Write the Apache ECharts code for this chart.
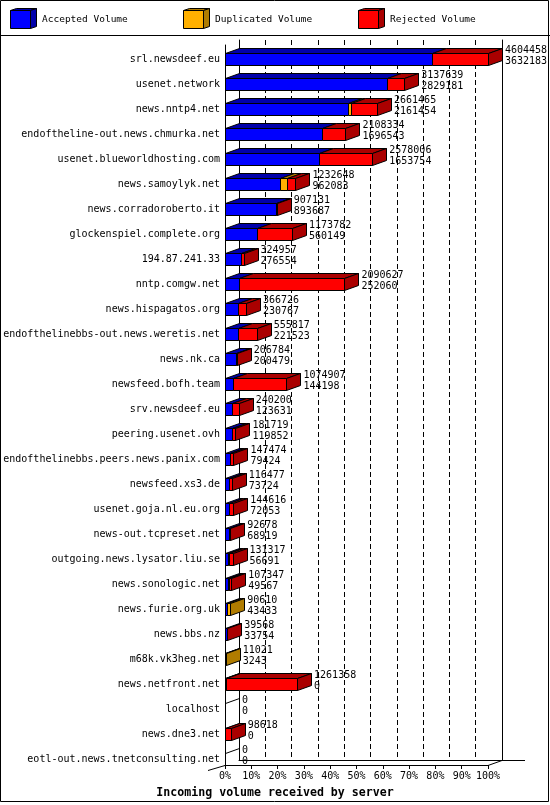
<!DOCTYPE html>
<html>
<head>
<meta charset="utf-8">
<script src="https://cdn.jsdelivr.net/npm/echarts@6/dist/echarts.min.js"></script>
<style>
html,body{margin:0;padding:0;background:#fff;}
#chart{width:550px;height:805px;}
</style>
</head>
<body>
<div id="chart"></div>
<script>
// ---- data ----
const categories = [
  'srl.newsdeef.eu','usenet.network','news.nntp4.net','endoftheline-out.news.chmurka.net',
  'usenet.blueworldhosting.com','news.samoylyk.net','news.corradoroberto.it','glockenspiel.complete.org',
  '194.87.241.33','nntp.comgw.net','news.hispagatos.org','endofthelinebbs-out.news.weretis.net',
  'news.nk.ca','newsfeed.bofh.team','srv.newsdeef.eu','peering.usenet.ovh',
  'endofthelinebbs.peers.news.panix.com','newsfeed.xs3.de','usenet.goja.nl.eu.org','news-out.tcpreset.net',
  'outgoing.news.lysator.liu.se','news.sonologic.net','news.furie.org.uk','news.bbs.nz',
  'm68k.vk3heg.net','news.netfront.net','localhost','news.dne3.net','eotl-out.news.tnetconsulting.net'
];
const offeredVolume = [
  4604458,3137639,2661465,2108334,2578006,1232648,907131,1173782,
  324957,2090627,366726,555817,206784,1074907,240200,181719,
  147474,116477,144616,92678,131317,107347,90610,39568,
  11021,1261358,0,98618,0
];
const acceptedVolume = [
  3632183,2829181,2161454,1696543,1653754,962083,893687,560149,
  276554,252060,230767,221523,200479,144198,123631,119852,
  79424,73724,72053,68919,56691,49567,43433,33754,
  3243,0,0,0,0
];
const duplicatedVolume = [
  0,0,40000,0,0,120000,0,0,
  0,0,0,0,0,0,0,0,
  15000,0,0,0,12000,12000,47177,0,
  7778,20000,0,0,0
];
const rejectedVolume = [
  972275,308458,460011,411791,924252,150565,13444,613633,
  48403,1838567,135959,334294,6305,930709,116569,61867,
  53050,42753,72563,23759,62626,45780,0,5814,
  0,1241358,0,98618,0
];
const axisTicks = [0,10,20,30,40,50,60,70,80,90,100];
const seriesNames = ['Accepted Volume','Duplicated Volume','Rejected Volume'];

// ---- style ----
const FONT = '"DejaVu Sans Mono", monospace';
const FRONT = ['#0000ff', '#ffb000', '#ff0000'];
const DARK  = ['#0000aa', '#b07c00', '#aa0000'];
const DX = 14, DY = 5;
const maxV = Math.max.apply(null, offeredVolume);

const rows = categories.map((c, i) => [i, acceptedVolume[i], duplicatedVolume[i], rejectedVolume[i], offeredVolume[i]]);

function px(v){ return Math.round(v) + 0.5; }

function renderItem(params, api) {
  const i = api.value(0);
  const vals = [api.value(1), api.value(2), api.value(3)];
  const yc = api.coord([0, i])[1];
  const hh = Math.round(api.size([0, 1])[1] * 0.24);
  const yt = px(yc - hh), yb = px(yc + hh);
  const children = [];
  let last = -1, acc = 0;
  const segs = [];
  vals.forEach((v, k) => { segs.push([acc, acc + v]); if (v > 0) last = k; acc += v; });
  const sideSeg = [];
  segs.forEach((s, k) => {
    if (k > 0 && s[1] <= s[0]) return;
    const x0 = px(api.coord([s[0], i])[0]);
    const x1 = px(api.coord([s[1], i])[0]);
    if (x1 > x0) {
      children.push({type:'polygon', shape:{points:[[x0,yt],[x1,yt],[x1,yb],[x0,yb]]},
        style:{fill:FRONT[k], stroke:'#000', lineWidth:1}});
      children.push({type:'polygon', shape:{points:[[x0,yt],[x1,yt],[x1+DX,yt-DY],[x0+DX,yt-DY]]},
        style:{fill:DARK[k], stroke:'#000', lineWidth:1}});
    } else {
      children.push({type:'line', shape:{x1:x0, y1:yt, x2:x0+DX, y2:yt-DY},
        style:{stroke:'#000', lineWidth:1}});
    }
    if (k === last) sideSeg.push([x1, k]);
  });
  sideSeg.forEach(([x1, k]) => {
    children.push({type:'polygon', shape:{points:[[x1,yt],[x1+DX,yt-DY],[x1+DX,yb-DY],[x1,yb]]},
      style:{fill:DARK[k], stroke:'#000', lineWidth:1}});
  });
  const xe = api.coord([acc, i])[0] + DX + 3;
  children.push({type:'text', style:{text:String(api.value(4)), x:xe, y:yc - 8.5,
    font:'10px ' + FONT, fill:'#000', align:'left', verticalAlign:'middle',
    textAlign:'left', textVerticalAlign:'middle'}});
  children.push({type:'text', style:{text:String(api.value(1)), x:xe, y:yc + 2.5,
    font:'10px ' + FONT, fill:'#000', align:'left', verticalAlign:'middle',
    textAlign:'left', textVerticalAlign:'middle'}});
  return {type:'group', children};
}

function legendCube(x, k) {
  const y0 = 10, y1 = 28, w = 20, dx = 6, dy = 2;
  return [
    {type:'polygon', shape:{points:[[x+0.5,y0+0.5],[x+w+0.5,y0+0.5],[x+w+dx+0.5,y0-dy+0.5],[x+dx+0.5,y0-dy+0.5]]},
      style:{fill:DARK[k], stroke:'#000', lineWidth:1}},
    {type:'polygon', shape:{points:[[x+w+0.5,y0+0.5],[x+w+dx+0.5,y0-dy+0.5],[x+w+dx+0.5,y1-dy+0.5],[x+w+0.5,y1+0.5]]},
      style:{fill:DARK[k], stroke:'#000', lineWidth:1}},
    {type:'rect', shape:{x:x+0.5, y:y0+0.5, width:w, height:y1-y0},
      style:{fill:FRONT[k], stroke:'#000', lineWidth:1}},
    {type:'text', style:{text:seriesNames[k], x:x+32, y:20, font:'9.5px ' + FONT, fill:'#000',
      align:'left', verticalAlign:'middle', textAlign:'left', textVerticalAlign:'middle'}}
  ];
}

const chart = echarts.init(document.getElementById('chart'), null, {renderer:'canvas'});
const axisBlack = {color:'#000', width:1};

chart.setOption({
  animation: false,
  backgroundColor: '#fff',
  textStyle: {fontFamily: FONT, color:'#000'},
  title: {
    text: 'Incoming volume received by server',
    left: 'center', top: 782,
    textStyle: {fontFamily: FONT, fontWeight:'bold', fontSize:11.6, color:'#000'}
  },
  grid: [
    {left:225, width:263, top:46.5, height:725, containLabel:false, outerBoundsMode:'none'},
    {left:225, width:263, top:45, height:720, containLabel:false, outerBoundsMode:'none'},
    {left:239, width:263, top:40, height:720, containLabel:false, outerBoundsMode:'none'}
  ],
  xAxis: [
    {gridIndex:0, type:'value', min:0, max:maxV, show:false},
    {gridIndex:1, type:'value', min:axisTicks[0], max:axisTicks[axisTicks.length-1], interval:10,
      axisLine:{show:true, onZero:false, lineStyle:axisBlack},
      axisTick:{show:true, length:4, lineStyle:axisBlack},
      axisLabel:{formatter:'{value}%', margin:6, color:'#000', fontFamily:FONT, fontSize:10},
      splitLine:{show:false}},
    {gridIndex:2, type:'value', min:0, max:100, interval:10,
      axisLine:{show:true, onZero:false, lineStyle:axisBlack},
      axisTick:{show:false}, axisLabel:{show:false},
      splitLine:{show:true, showMinLine:false, showMaxLine:false,
        lineStyle:{color:'#000', width:1, type:[5,3]}}}
  ],
  yAxis: [
    {gridIndex:0, type:'category', data:categories, inverse:true,
      axisLine:{show:false}, axisTick:{show:false}, splitLine:{show:false},
      axisLabel:{interval:0, margin:5, color:'#000', fontFamily:FONT, fontSize:10}},
    {gridIndex:1, type:'value', min:0, max:1, position:'left',
      axisLine:{show:true, onZero:false, lineStyle:axisBlack},
      axisTick:{show:false}, axisLabel:{show:false}, splitLine:{show:false}},
    {gridIndex:2, type:'value', min:0, max:1, position:'left',
      axisLine:{show:true, onZero:false, lineStyle:axisBlack},
      axisTick:{show:false}, axisLabel:{show:false}, splitLine:{show:false}},
    {gridIndex:2, type:'value', min:0, max:1, position:'right',
      axisLine:{show:true, onZero:false, lineStyle:axisBlack},
      axisTick:{show:false}, axisLabel:{show:false}, splitLine:{show:false}}
  ],
  series: [{
    type:'custom', name:'Volume', xAxisIndex:0, yAxisIndex:0,
    renderItem: renderItem, clip:false, z:5,
    encode:{x:[1,2,3], y:0},
    data: rows
  }],
  graphic: [
    {type:'rect', shape:{x:0.5, y:0.5, width:548, height:801}, style:{fill:null, stroke:'#000', lineWidth:1}, silent:true},
    {type:'line', shape:{x1:0, y1:35.5, x2:550, y2:35.5}, style:{stroke:'#000', lineWidth:1}},
    {type:'line', shape:{x1:208, y1:770.5, x2:225, y2:765.5}, style:{stroke:'#000', lineWidth:1}},
    {type:'line', shape:{x1:488, y1:765.5, x2:502, y2:760.5}, style:{stroke:'#000', lineWidth:1}},
    {type:'line', shape:{x1:502, y1:760.5, x2:525, y2:760.5}, style:{stroke:'#000', lineWidth:1}},
    {type:'group', children: [].concat(legendCube(10,0), legendCube(183,1), legendCube(358,2))}
  ]
});
</script>
</body>
</html>
